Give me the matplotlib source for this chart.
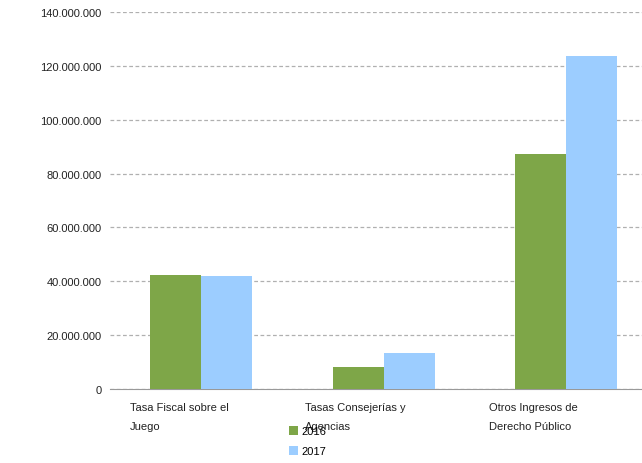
import matplotlib
matplotlib.use("Agg")
import matplotlib.pyplot as plt
import numpy as np

categories = ["Tasa Fiscal sobre el\nJuego", "Tasas Consejerías y\nAgencias", "Otros Ingresos de\nDerecho Público"]
series_names = ["2016", "2017"]
values_2016 = [42300000, 8200000, 87300000]
values_2017 = [42000000, 13400000, 123700000]
yticks = [0, 20000000, 40000000, 60000000, 80000000, 100000000, 120000000, 140000000]
colors = ["#7ea648", "#9ccdff"]

plt.rcParams["font.family"] = ["Liberation Sans", "DejaVu Sans"]

fig = plt.figure(figsize=(6.42, 4.64), dpi=100)
# axes placed in pixels: left 110, right 642, bottom at y=390, top at y=13
ax = fig.add_axes([110 / 642, (464 - 390) / 464, 532 / 642, (390 - 13) / 464])

x = np.arange(len(categories))
w = 0.28
ax.bar(x - w / 2, values_2016, w, color=colors[0], label=series_names[0], zorder=3)
ax.bar(x + w / 2, values_2017, w, color=colors[1], label=series_names[1], zorder=3)

ax.set_xlim(-0.5, 2.416)
ax.set_ylim(0, 140000000)
ax.set_yticks(yticks)
ax.set_yticklabels([f"{v:,}".replace(",", ".") for v in yticks], fontsize=8, color="#222222")
ax.tick_params(axis="y", length=0, pad=6)
ax.set_xticks([])

ax.yaxis.grid(True, linestyle=(0, (3, 2)), color="#b0b0b0", linewidth=0.9, zorder=0)
for s in ["top", "right", "left"]:
    ax.spines[s].set_visible(False)
ax.spines["bottom"].set_color("#999999")
ax.spines["bottom"].set_linestyle((0, (3, 1)))

# category labels, left aligned under each group
label_offsets = [-0.39, -0.43, -0.42]
for i, (lab, off) in enumerate(zip(categories, label_offsets)):
    ax.text(i + off, -0.035, lab, transform=ax.get_xaxis_transform(), ha="left", va="top",
            fontsize=8, color="#222222", linespacing=2.1)

ax.legend(loc="upper left", bbox_to_anchor=(289 / 642, 1 - 427 / 464), bbox_transform=fig.transFigure,
          frameon=False, fontsize=8, handlelength=0.8, handleheight=0.8, handletextpad=0.3,
          labelspacing=0.9, borderaxespad=0, borderpad=0)

fig.savefig("out.png", dpi=100)
